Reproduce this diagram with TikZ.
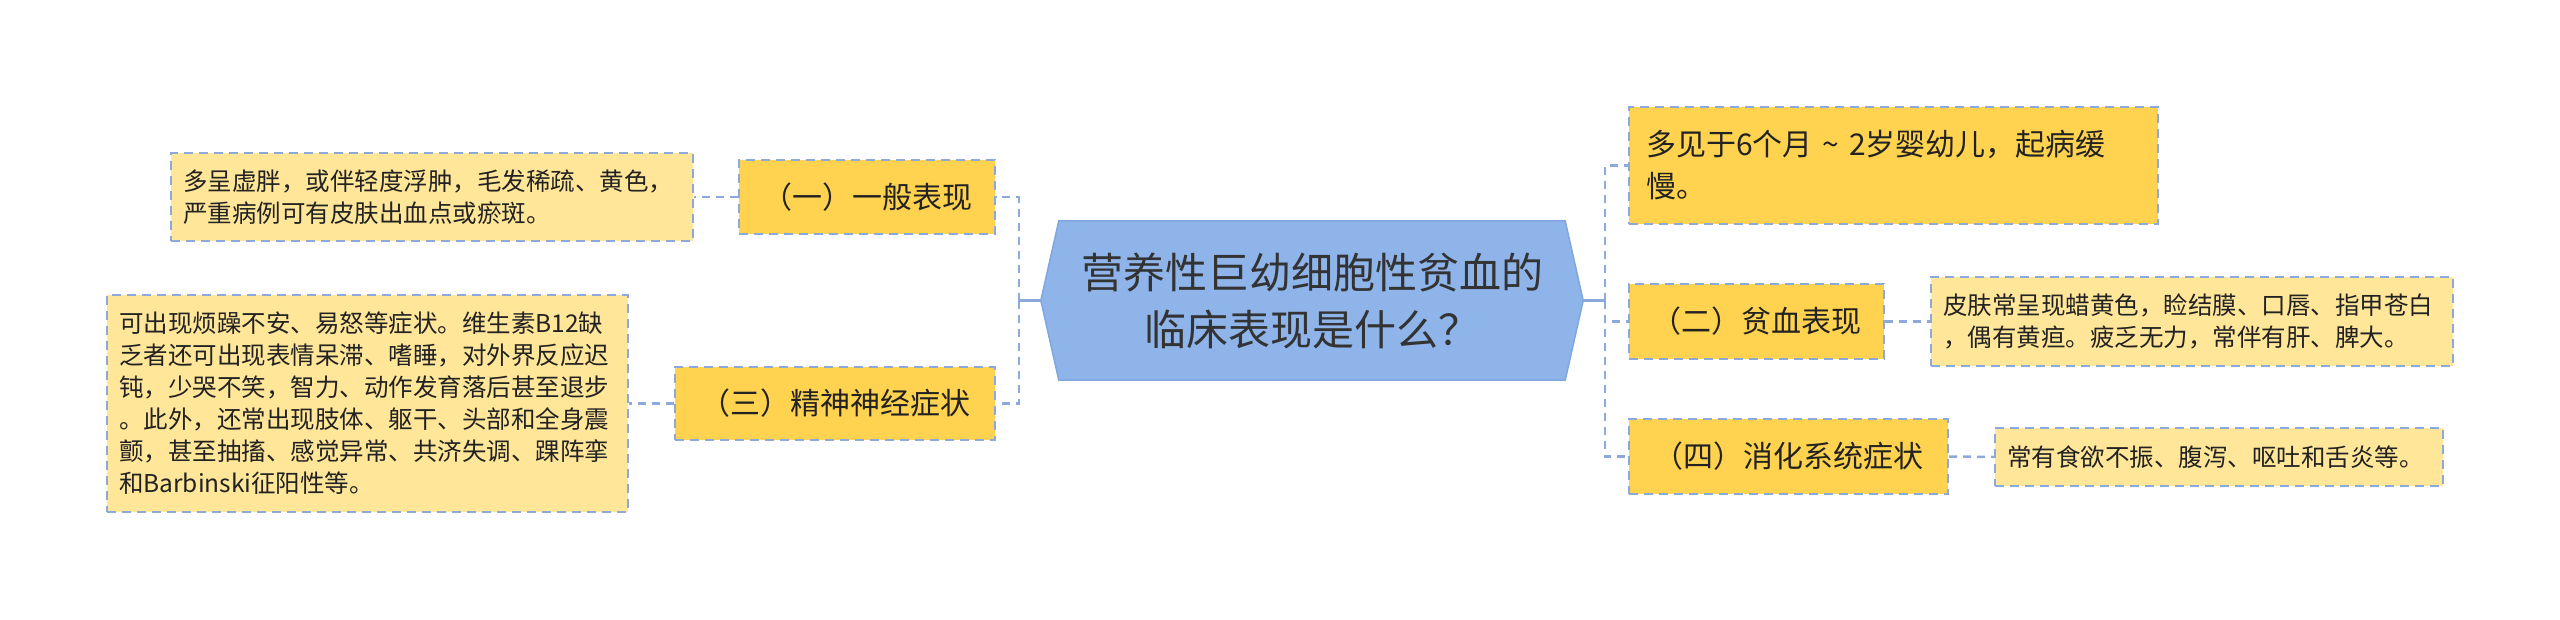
\documentclass[tikz,border=0pt]{standalone}
\usepackage{fontspec}
\newfontfamily\cjk{Noto Sans CJK SC}
\usetikzlibrary{backgrounds}
\definecolor{lineblue}{HTML}{8DA9DB}
\definecolor{rootblue}{HTML}{8EB4EA}
\definecolor{rootedge}{HTML}{7FA7E0}
\definecolor{gold}{HTML}{FFD34F}
\definecolor{leafyel}{HTML}{FFE699}
\definecolor{txt}{HTML}{222222}
\definecolor{roottxt}{HTML}{333333}
\tikzset{
  boxline/.style={draw=lineblue, line width=2pt, dash pattern=on 9pt off 6pt},
  topicbox/.style={boxline, fill=gold, text=txt, inner sep=0pt,
     font=\cjk\fontsize{30}{42}\selectfont, anchor=center},
  leafbox/.style={boxline, fill=leafyel, text=txt, inner xsep=12pt, inner ysep=0pt,
     font=\cjk\fontsize{24.5}{32}\selectfont, align=left, anchor=center},
  conn/.style={draw=lineblue, line width=2.5pt, dash pattern=on 8pt off 6pt},
  solidconn/.style={draw=lineblue, line width=2.5pt},
}
\begin{document}
\begin{tikzpicture}[x=1pt,y=-1pt]
\useasboundingbox (0,0) rectangle (2560,619);
% root
\node[minimum width=542pt, minimum height=159pt, inner sep=0pt, align=center,
      text=roottxt, font=\cjk\fontsize{42}{57}\selectfont] (root) at (1312,300.5)
      {营养性巨幼细胞性贫血的\\临床表现是什么？};
\begin{pgfonlayer}{background}
\draw[fill=rootblue, draw=rootedge, line width=1.5pt]
  (root.west) -- ([xshift=18pt]root.north west) -- ([xshift=-18pt]root.north east)
  -- (root.east) -- ([xshift=-18pt]root.south east) -- ([xshift=18pt]root.south west) -- cycle;
\end{pgfonlayer}
% left topics
\node[topicbox, minimum width=256pt, minimum height=74pt] (b1) at (867,197) {（一）一般表现};
\node[topicbox, minimum width=320pt, minimum height=73pt] (b3) at (835,403.5) {（三）精神神经症状};
% left leaves
\node[leafbox, text width=498pt, minimum height=88pt] (l1) at (432,197)
  {多呈虚胖，或伴轻度浮肿，毛发稀疏、黄色，\\严重病例可有皮肤出血点或瘀斑。};
\node[leafbox, text width=497pt, minimum height=217pt] (l3) at (367.5,403.5)
  {可出现烦躁不安、易怒等症状。维生素B12缺\\乏者还可出现表情呆滞、嗜睡，对外界反应迟\\钝，少哭不笑，智力、动作发育落后甚至退步\\。此外，还常出现肢体、躯干、头部和全身震\\颤，甚至抽搐、感觉异常、共济失调、踝阵挛\\和Barbinski征阳性等。};
% right topics
\node[topicbox, align=left, text width=495pt, inner xsep=17pt, minimum height=117pt] (ba) at (1893.5,165.5)
  {多见于6个月 \textasciitilde{} 2岁婴幼儿，起病缓\\慢。};
\node[topicbox, minimum width=255pt, minimum height=75pt] (b2) at (1756.5,321.5) {（二）贫血表现};
\node[topicbox, minimum width=319pt, minimum height=75pt] (b4) at (1788.5,456.5) {（四）消化系统症状};
% right leaves
\node[leafbox, text width=498pt, minimum height=89pt] (l2) at (2192,321.5)
  {皮肤常呈现蜡黄色，睑结膜、口唇、指甲苍白\\，偶有黄疸。疲乏无力，常伴有肝、脾大。};
\node[leafbox, text width=424pt, minimum height=58pt] (l4) at (2219,457)
  {常有食欲不振、腹泻、呕吐和舌炎等。};
% connectors root -> buses
\draw[solidconn] (root.west) -- ++(-22,0) coordinate (jL);
\draw[solidconn] (root.east) -- ++(22,0) coordinate (jR);
\draw[conn] (jL) |- (b1.east);
\draw[conn] (jL) |- (b3.east);
\draw[conn] (jR) |- (ba.west);
\draw[conn] (jR) |- (b2.west);
\draw[conn] (jR) |- (b4.west);
% topic -> leaf
\draw[conn] (b1.west) -- (l1.east);
\draw[conn] (b3.west) -- (l3.east);
\draw[conn] (b2.east) -- (l2.west);
\draw[conn] (b4.east) -- (l4.west);
\end{tikzpicture}
\end{document}
